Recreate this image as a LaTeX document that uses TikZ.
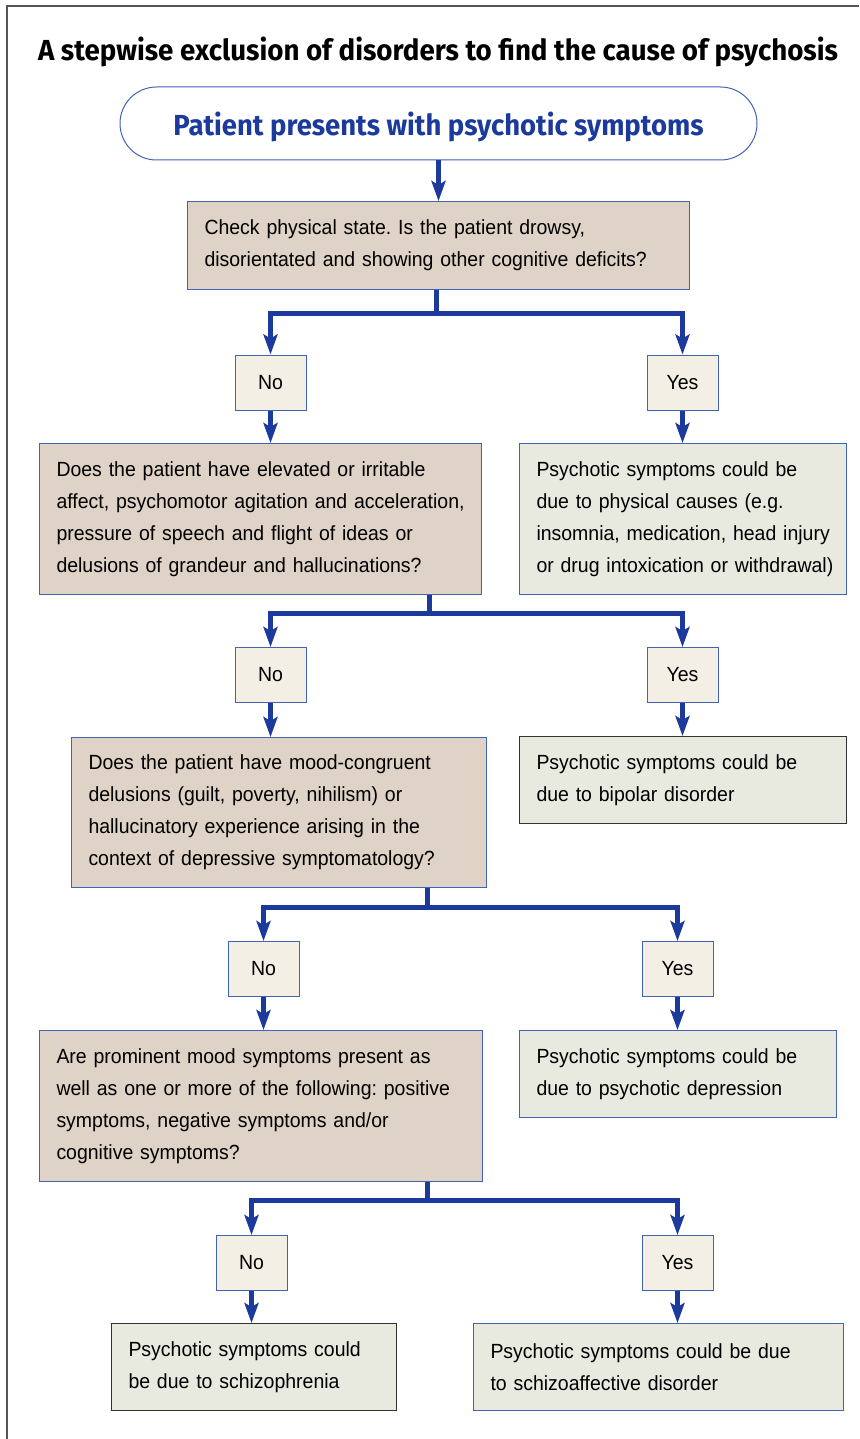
\documentclass[tikz,border=0pt]{standalone}
\usepackage{fontspec}
\setmainfont{Liberation Sans}[FakeStretch=0.95]
\newfontfamily\headfont{Fira Sans}
\usetikzlibrary{arrows.meta}
\frenchspacing
\definecolor{cblue}{HTML}{1B3A9C}
\definecolor{bblue}{HTML}{4262B6}
\definecolor{qfill}{HTML}{DFD2C7}
\definecolor{rfill}{HTML}{E8EAE0}
\definecolor{yfill}{HTML}{F3EFE4}
\definecolor{framegray}{HTML}{555555}
\definecolor{darkborder}{HTML}{333333}
\tikzset{
  txt/.style={font=\fontsize{20.5}{32}\selectfont},
  basebox/.style={txt, draw=bblue, line width=1pt, rectangle, anchor=north west, inner ysep=0pt, inner xsep=17pt, align=left},
  qbox/.style={basebox, fill=qfill},
  rbox/.style={basebox, fill=rfill},
  rdbox/.style={rbox, draw=darkborder},
  ynbox/.style={txt, draw=bblue, line width=1pt, fill=yfill, rectangle, anchor=center, minimum width=71pt, minimum height=55pt, inner sep=0pt},
  conn/.style={draw=cblue, line width=5pt, line join=miter},
  arr/.style={conn, -{Stealth[length=20pt,width=14pt,inset=4pt]}}
}
\begin{document}
\frenchspacing
\begin{tikzpicture}[x=1pt,y=-1pt]
\useasboundingbox (0,0) rectangle (859,1439);
\fill[white] (0,0) rectangle (859,1439);
\draw[framegray, line width=1.5pt] (7,1439) -- (7,6) -- (859,6);

\node[anchor=base] (title) at (438,61)
  {\resizebox{800pt}{\height}{\headfont\bfseries\fontsize{29}{30}\selectfont A stepwise exclusion of disorders to find the cause of psychosis}};

\node[draw=bblue, line width=1pt, fill=white, rounded corners=36.5pt, minimum width=637pt, minimum height=73pt, inner sep=0pt, text depth=0pt, text=cblue] (start) at (438.5,123.5)
  {\resizebox{530pt}{\height}{\headfont\bfseries\fontsize{29}{30}\selectfont Patient presents with psychotic symptoms}};

\node[qbox, text width=468pt, minimum height=88pt] (q1) at (187,201)
  {\mbox{Check physical state. Is the patient drowsy,}\\\mbox{disorientated and showing other cognitive deficits?}};

\node[ynbox] (no1) at (270.5,382.5) {No};
\node[ynbox] (yes1) at (682.5,382.5) {Yes};

\node[qbox, text width=408pt, minimum height=151pt] (q2) at (39,443)
  {\mbox{Does the patient have elevated or irritable}\\\mbox{affect, psychomotor agitation and acceleration,}\\\mbox{pressure of speech and flight of ideas or}\\\mbox{delusions of grandeur and hallucinations?}};
\node[rbox, text width=293pt, minimum height=151pt] (r1) at (519,443)
  {\mbox{Psychotic symptoms could be}\\\mbox{due to physical causes (e.g.}\\\mbox{insomnia, medication, head injury}\\\mbox{or drug intoxication or withdrawal)}};

\node[ynbox] (no2) at (270.5,675) {No};
\node[ynbox] (yes2) at (682.5,675) {Yes};

\node[qbox, text width=381pt, minimum height=150pt] (q3) at (71,737)
  {\mbox{Does the patient have mood-congruent}\\\mbox{delusions (guilt, poverty, nihilism) or}\\\mbox{hallucinatory experience arising in the}\\\mbox{context of depressive symptomatology?}};
\node[rdbox, text width=293pt, minimum height=87pt] (r2) at (519,736)
  {\mbox{Psychotic symptoms could be}\\\mbox{due to bipolar disorder}};

\node[ynbox] (no3) at (263.5,969) {No};
\node[ynbox] (yes3) at (677.5,969) {Yes};

\node[qbox, text width=409pt, minimum height=151pt] (q4) at (39,1030)
  {\mbox{Are prominent mood symptoms present as}\\\mbox{well as one or more of the following: positive}\\\mbox{symptoms, negative symptoms and/or}\\\mbox{cognitive symptoms?}};
\node[rbox, text width=283pt, minimum height=87pt] (r3) at (519,1030)
  {\mbox{Psychotic symptoms could be}\\\mbox{due to psychotic depression}};

\node[ynbox] (no4) at (251.5,1263) {No};
\node[ynbox] (yes4) at (677.5,1263) {Yes};

\node[rdbox, text width=251pt, minimum height=87pt] (r4) at (111,1323)
  {\mbox{Psychotic symptoms could}\\\mbox{be due to schizophrenia}};
\node[rbox, text width=336pt, minimum height=87pt] (r5) at (473,1323)
  {\mbox{Psychotic symptoms could be due}\\\mbox{to schizoaffective disorder}};

% connectors
\draw[arr] (start.south) -- (start.south |- q1.north);

\coordinate (j1) at (436.5,313);
\draw[conn] (q1.south -| j1) -- (j1);
\draw[arr] (j1) -| (no1.north);
\draw[arr] (j1) -| (yes1.north);
\draw[arr] (no1.south) -- (no1.south |- q2.north);
\draw[arr] (yes1.south) -- (yes1.south |- r1.north);

\coordinate (j2) at (429,613);
\draw[conn] (q2.south -| j2) -- (j2);
\draw[arr] (j2) -| (no2.north);
\draw[arr] (j2) -| (yes2.north);
\draw[arr] (no2.south) -- (no2.south |- q3.north);
\draw[arr] (yes2.south) -- (yes2.south |- r2.north);

\coordinate (j3) at (427,907);
\draw[conn] (q3.south -| j3) -- (j3);
\draw[arr] (j3) -| (no3.north);
\draw[arr] (j3) -| (yes3.north);
\draw[arr] (no3.south) -- (no3.south |- q4.north);
\draw[arr] (yes3.south) -- (yes3.south |- r3.north);

\coordinate (j4) at (427,1200);
\draw[conn] (q4.south -| j4) -- (j4);
\draw[arr] (j4) -| (no4.north);
\draw[arr] (j4) -| (yes4.north);
\draw[arr] (no4.south) -- (no4.south |- r4.north);
\draw[arr] (yes4.south) -- (yes4.south |- r5.north);
\end{tikzpicture}
\end{document}
